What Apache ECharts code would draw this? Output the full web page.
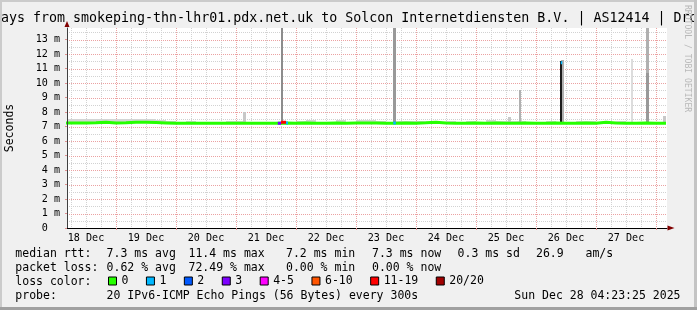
<!DOCTYPE html>
<html><head><meta charset="utf-8">
<script src="https://cdn.jsdelivr.net/npm/echarts@6/dist/echarts.min.js"></script>
<style>html,body{margin:0;padding:0;background:#f0f0f0}#c{width:697px;height:310px}</style>
</head><body><div id="c"></div>
<script>
// ---------------- data (hours counted from 18 Dec 00:00) ----------------
const timeStart = 4.39;            // 18 Dec 04:23
const timeEnd = 244.39;            // 28 Dec 04:23
const yMax = 13.8;                 // ms

const xTickHours = [12, 36, 60, 84, 108, 132, 156, 180, 204, 228];
const xTickLabels = ['18 Dec', '19 Dec', '20 Dec', '21 Dec', '22 Dec', '23 Dec', '24 Dec', '25 Dec', '26 Dec', '27 Dec'];
const xMajorGrid = [24, 48, 72, 96, 120, 144, 168, 192, 216, 240];
const xMinorGrid = [6, 12, 18, 30, 36, 42, 54, 60, 66, 78, 84, 90, 102, 108, 114, 126, 132, 138, 150, 156, 162, 174, 180, 186, 198, 204, 210, 222, 228, 234];
const yTickValues = [0, 1, 2, 3, 4, 5, 6, 7, 8, 9, 10, 11, 12, 13];
const yTickLabels = ['0  ', '1 m', '2 m', '3 m', '4 m', '5 m', '6 m', '7 m', '8 m', '9 m', '10 m', '11 m', '12 m', '13 m'];
const yMajorGrid = [1, 2, 3, 4, 5, 6, 7, 8, 9, 10, 11, 12, 13];
const yMinorGrid = [0.5, 1.5, 2.5, 3.5, 4.5, 5.5, 6.5, 7.5, 8.5, 9.5, 10.5, 11.5, 12.5, 13.5];

// median rtt (loss 0), every 4 h
const medianHours = [4, 8, 12, 16, 20, 24, 28, 32, 36, 40, 44, 48, 52, 56, 60, 64, 68, 72, 76, 80, 84, 88, 92, 96, 100, 104, 108, 112, 116, 120, 124, 128, 132, 136, 140, 144, 148, 152, 156, 160, 164, 168, 172, 176, 180, 184, 188, 192, 196, 200, 204, 208, 212, 216, 220, 224, 228, 232, 236, 240, 244];
const medianValues = [7.25, 7.25, 7.25, 7.26, 7.30, 7.25, 7.26, 7.29, 7.29, 7.28, 7.25, 7.22, 7.22, 7.23, 7.22, 7.22, 7.23, 7.22, 7.23, 7.23, 7.22, 7.23, 7.25, 7.23, 7.24, 7.23, 7.23, 7.24, 7.23, 7.24, 7.25, 7.24, 7.23, 7.23, 7.24, 7.23, 7.26, 7.30, 7.25, 7.23, 7.23, 7.24, 7.23, 7.24, 7.23, 7.23, 7.24, 7.23, 7.23, 7.24, 7.23, 7.23, 7.24, 7.23, 7.30, 7.24, 7.23, 7.23, 7.24, 7.23, 7.23];

// median points where packets were lost: [hour, ms]
const loss1Points = [[92.0, 7.24], [92.8, 7.24], [93.0, '-'], [134.9, 7.24], [135.9, 7.24], [136.0, '-'], [201.9, 11.4], [202.5, 11.4]];
const loss3Points = [[88.7, 7.23], [90.0, 7.23]];
const loss11to19Points = [[90.0, 7.29], [92.0, 7.29]];

// smoke (spread of the 20 pings): [hour, low ms, high ms]
const smokeBand = [
  [6, 7.23, 7.50], [10, 7.23, 7.52], [14, 7.23, 7.50], [18, 7.23, 7.55], [22, 7.23, 7.50], [26, 7.23, 7.50], [30, 7.23, 7.52], [34, 7.23, 7.50], [38, 7.23, 7.50], [42, 7.23, 7.45],
  [46, 7.23, 7.35], [50, 7.23, 7.30], [54, 7.23, 7.38], [58, 7.23, 7.30], [62, 7.23, 7.32], [66, 7.23, 7.30], [70, 7.23, 7.35], [74, 7.23, 7.38], [78, 7.23, 7.30], [82, 7.23, 7.30],
  [86, 7.23, 7.32], [90, 7.23, 7.30], [94, 7.23, 7.30], [98, 7.23, 7.35], [102, 7.23, 7.45], [106, 7.23, 7.30], [110, 7.23, 7.30], [114, 7.23, 7.42], [118, 7.23, 7.30], [122, 7.23, 7.45],
  [126, 7.23, 7.45], [130, 7.23, 7.40], [134, 7.23, 7.30], [138, 7.23, 7.40], [142, 7.23, 7.40], [146, 7.23, 7.40], [150, 7.23, 7.30], [154, 7.23, 7.30], [158, 7.23, 7.40], [162, 7.23, 7.30],
  [166, 7.23, 7.40], [170, 7.23, 7.30], [174, 7.23, 7.45], [178, 7.23, 7.40], [182, 7.23, 7.35], [186, 7.23, 7.40], [190, 7.23, 7.30], [194, 7.23, 7.30], [198, 7.23, 7.40], [202, 7.23, 7.30],
  [206, 7.23, 7.30], [210, 7.23, 7.40], [214, 7.23, 7.35], [218, 7.23, 7.30], [222, 7.23, 7.30], [226, 7.23, 7.35], [230, 7.23, 7.30], [234, 7.23, 7.30], [238, 7.23, 7.30], [242, 7.23, 7.30]
];
const smokeShade1 = [[201.9, 7.23, 11.52]];
const smokeShade2 = [[90.3, 7.23, 14.0]];
const smokeShade3 = [[135.3, 7.23, 14.0], [236.6, 7.23, 10.7]];
const smokeShade4 = [[185.5, 7.23, 9.5], [236.6, 10.7, 14.0], [202.6, 7.23, 11.62]];
const smokeShade5 = [[75.3, 7.23, 7.97], [181.4, 7.23, 7.65], [243.4, 7.23, 7.73]];
const smokeShade6 = [[230.4, 7.23, 11.66]];

// summary
const lossNames = ['0', '1', '2', '3', '4-5', '6-10', '11-19', '20/20'];
const rttSummary = [7.3, 11.4, 7.2, 7.3];      // avg, max, min, now (ms)
const rttSd = 0.3;
const amPerS = 26.9;
const lossSummary = [0.62, 72.49, 0.00, 0.00]; // avg, max, min, now (%)
const titleText = 'ays from smokeping-thn-lhr01.pdx.net.uk to Solcon Internetdiensten B.V. | AS12414 | Dro';
const probeText = '20 IPv6-ICMP Echo Pings (56 Bytes) every 300s';
const dateText = 'Sun Dec 28 04:23:25 2025';
const watermarkText = 'RRDTOOL / TOBI OETIKER';

// ---------------- styles ----------------
const lossColors = ['#26ff00', '#00b8ff', '#0059ff', '#7e00ff', '#ff00ff', '#ff5500', '#ff0000', '#a10000'];
const MONO = '"DejaVu Sans Mono", monospace';

const chart = echarts.init(document.getElementById('c'), null, { renderer: 'canvas', width: 697, height: 310 });

function smokeSeries(rows, color, widthH, z) {
  return {
    type: 'custom', data: rows, z: z, silent: true, animation: false,
    encode: { x: 0, y: [1, 2] },
    itemStyle: { color: color },
    renderItem: function (params, api) {
      const t = api.value(0), lo = api.value(1), hi = api.value(2);
      const a = api.coord([t - widthH / 2, hi]);
      const b = api.coord([t + widthH / 2, lo]);
      const cs = params.coordSys;
      let x0 = Math.round(a[0]), x1 = Math.round(b[0]);
      if (x1 <= x0) x1 = x0 + 1;
      const y0 = Math.round(a[1]), y1 = Math.round(b[1]);
      const r = echarts.graphic.clipRectByRect(
        { x: x0, y: y0, width: x1 - x0, height: y1 - y0 },
        { x: cs.x, y: cs.y, width: cs.width, height: cs.height });
      if (!r) return null;
      return { type: 'rect', shape: r, style: { fill: color } };
    }
  };
}
function lossSeries(i, pts) {
  return {
    type: 'line', name: lossNames[i], data: pts, z: i === 0 ? 10 : 11, silent: true, animation: false,
    showSymbol: false, symbol: 'none', connectNulls: false,
    itemStyle: { color: lossColors[i] }, lineStyle: { color: lossColors[i], width: 3 }
  };
}
// dotted grid lines, placed through the axes' scales and snapped to whole pixels
function gridSeries(values, dim, color, z) {
  return {
    type: 'custom', z: z, silent: true, animation: false,
    data: values.map(v => dim === 'x' ? [v, 0] : [timeStart, v]),
    encode: { x: 0, y: 1 },
    renderItem: function (params, api) {
      const cs = params.coordSys;
      const p = api.coord([api.value(0), api.value(1)]);
      let shape;
      if (dim === 'x') {
        const x = Math.round(p[0]) + 0.5;
        shape = { x1: x, y1: cs.y, x2: x, y2: cs.y + cs.height };
      } else {
        const y = Math.round(p[1]) + 0.5;
        shape = { x1: cs.x, y1: y, x2: cs.x + cs.width, y2: y };
      }
      return { type: 'line', shape: shape, style: { stroke: color, lineWidth: 1, lineDash: [1, 1] } };
    }
  };
}

const textStyleBase = { font: '11.5px ' + MONO, fill: '#000', verticalAlign: 'middle', align: 'left' };
function txt(x, y, s, extra) {
  return { type: 'text', x: x, y: y, z: 100, silent: true, style: Object.assign({}, textStyleBase, { text: s }, extra || {}) };
}
const colX = [15.3, 106.6, 188.5, 286.0, 372.0, 457.6, 536.0, 585.5];
const row = [254.3, 267.8, 282.0, 296.0];

const graphics = [
  { type: 'rect', shape: { x: 0, y: 0, width: 697, height: 2 }, style: { fill: '#cbcbcb' }, z: 120, silent: true },
  { type: 'rect', shape: { x: 0, y: 0, width: 2, height: 310 }, style: { fill: '#cbcbcb' }, z: 120, silent: true },
  { type: 'rect', shape: { x: 694, y: 0, width: 3, height: 310 }, style: { fill: '#c4c4c4' }, z: 120, silent: true },
  { type: 'rect', shape: { x: 0, y: 307, width: 697, height: 3 }, style: { fill: '#a0a0a0' }, z: 121, silent: true },
  txt(1, 18.5, titleText, { font: '13.3px ' + MONO }),
  { type: 'text', x: 686.7, y: 5, rotation: -Math.PI / 2, z: 100, silent: true,
    style: { text: watermarkText, font: '8.1px ' + MONO, fill: '#b8b8b8', align: 'left', verticalAlign: 'middle' } },
  txt(colX[0], row[0], 'median rtt:'),
  txt(colX[1], row[0], rttSummary[0].toFixed(1) + ' ms avg'),
  txt(colX[2], row[0], rttSummary[1].toFixed(1) + ' ms max'),
  txt(colX[3], row[0], rttSummary[2].toFixed(1) + ' ms min'),
  txt(colX[4], row[0], rttSummary[3].toFixed(1) + ' ms now'),
  txt(colX[5], row[0], rttSd.toFixed(1) + ' ms sd'),
  txt(colX[6], row[0], amPerS.toFixed(1)),
  txt(colX[7], row[0], 'am/s'),
  txt(colX[0], row[1], 'packet loss:'),
  txt(colX[1], row[1], lossSummary[0].toFixed(2) + ' % avg'),
  txt(colX[2], row[1], lossSummary[1].toFixed(2) + ' % max'),
  txt(colX[3], row[1], lossSummary[2].toFixed(2) + ' % min'),
  txt(colX[4], row[1], lossSummary[3].toFixed(2) + ' % now'),
  txt(colX[0], row[2], 'loss color:'),
  txt(colX[0], row[3], 'probe:'),
  txt(colX[1], row[3], probeText),
  txt(680.5, row[3], dateText, { align: 'right' })
];

const axisFont = { fontFamily: MONO, fontSize: 10.1, color: '#000' };

const option = {
  animation: false,
  backgroundColor: '#f0f0f0',
  grid: { left: 67, right: 30, top: 28, bottom: 82, show: true, backgroundColor: '#ffffff', borderWidth: 0, outerBoundsMode: 'none' },
  legend: {
    data: lossNames, left: 108, top: 275, icon: 'rect', itemWidth: 8, itemHeight: 8, itemGap: 17.5,
    selectedMode: false, padding: 0,
    itemStyle: { borderColor: '#000', borderWidth: 1 },
    textStyle: { fontFamily: MONO, fontSize: 11.5, color: '#000' }
  },
  xAxis: [
    {
      type: 'value', min: timeStart, max: timeEnd, position: 'bottom', z: 20,
      axisLine: { show: true, onZero: false, lineStyle: { color: '#000', width: 1 } },
      axisTick: { show: true, customValues: xMajorGrid, length: 2, lineStyle: { color: '#e09090' } },
      axisLabel: Object.assign({ customValues: xTickHours, margin: 4, lineHeight: 12,
        formatter: function (v) { const i = xTickHours.indexOf(v); return i >= 0 ? xTickLabels[i] : ''; } }, axisFont),
      splitLine: { show: false }
    },
    {
      type: 'value', min: timeStart, max: timeEnd, position: 'bottom', z: 20,
      axisLine: { show: true, onZero: false, symbol: ['none', 'triangle'], symbolSize: [5, 7], symbolOffset: [0, 4],
        lineStyle: { color: '#800000', width: 0 } },
      axisTick: { show: false }, axisLabel: { show: false }, splitLine: { show: false }
    }
  ],
  yAxis: [
    {
      type: 'value', min: 0, max: yMax, position: 'left', z: 20,
      axisLine: { show: true, onZero: false, lineStyle: { color: '#404040', width: 1 } },
      axisTick: { show: true, customValues: yTickValues, length: 2, lineStyle: { color: '#e09090' } },
      axisLabel: Object.assign({ customValues: yTickValues, margin: 7,
        formatter: function (v) { const i = yTickValues.indexOf(v); return i >= 0 ? yTickLabels[i] : ''; } }, axisFont),
      splitLine: { show: false },
      name: 'Seconds', nameLocation: 'middle', nameGap: 51, nameRotate: 90,
      nameTextStyle: { fontFamily: MONO, fontSize: 11.5, color: '#000' }
    },
    {
      type: 'value', min: 0, max: yMax, position: 'left', z: 20,
      axisLine: { show: true, onZero: false, symbol: ['none', 'triangle'], symbolSize: [5, 6], symbolOffset: [0, 4],
        lineStyle: { color: '#800000', width: 0 } },
      axisTick: { show: false }, axisLabel: { show: false }, splitLine: { show: false }
    }
  ],
  series: [
    gridSeries(xMinorGrid, 'x', '#d2d2d2', 1),
    gridSeries(yMinorGrid, 'y', '#d2d2d2', 1),
    gridSeries(xMajorGrid, 'x', '#eba2a2', 1),
    gridSeries(yMajorGrid, 'y', '#eba2a2', 1),
    smokeSeries(smokeBand, '#d4d4d4', 4, 3),
    smokeSeries(smokeShade6, '#dcdcdc', 0.9, 4),
    smokeSeries(smokeShade5, '#c8c8c8', 1.2, 4),
    smokeSeries(smokeShade4, '#b0b0b0', 0.9, 4),
    smokeSeries(smokeShade3, '#999999', 1.0, 4),
    smokeSeries(smokeShade2, '#8c8c8c', 0.9, 4),
    smokeSeries(smokeShade1, '#1c1c1c', 0.9, 5),
    lossSeries(0, medianHours.map((h, i) => [h, medianValues[i]])),
    lossSeries(1, loss1Points),
    lossSeries(2, []),
    lossSeries(3, loss3Points),
    lossSeries(4, []),
    lossSeries(5, []),
    lossSeries(6, loss11to19Points),
    lossSeries(7, [])
  ],
  graphic: { elements: graphics }
};
chart.setOption(option);
</script>
</body></html>
